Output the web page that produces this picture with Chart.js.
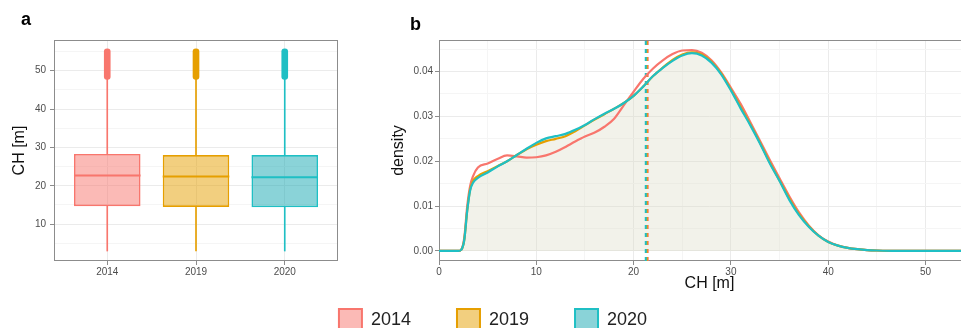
<!DOCTYPE html>
<html>
<head>
<meta charset="utf-8">
<script src="https://cdn.jsdelivr.net/npm/chart.js@4.4.1/dist/chart.umd.min.js"></script>
<style>
  html, body { margin: 0; padding: 0; background: #fff; overflow: hidden; width: 961px; height: 328px; position: relative; }
  canvas { position: absolute; }
  #boxChart { left: 0; top: 0; }
  #densChart { left: 380px; top: 0; }
  #legendChart { left: 0; top: 263px; }
</style>
</head>
<body>
<canvas id="boxChart" width="345" height="300"></canvas>
<canvas id="densChart" width="600" height="300"></canvas>
<canvas id="legendChart" width="986" height="260"></canvas>
<script>
const years = ['2014', '2019', '2020'];
const lineColors = ['#F8766D', '#E69F00', '#1FBFC4'];
const fillColors = ['rgba(248,118,109,0.5)', 'rgba(230,159,0,0.5)', 'rgba(21,167,177,0.5)'];

// boxplot stats, CH [m]
const whiskerLow = [3.0, 3.0, 3.0];
const q1 = [14.7, 14.5, 14.4];
const median = [22.7, 22.4, 22.2];
const q3 = [28.3, 28.0, 28.0];
const whiskerHigh = [48.3, 48.3, 48.3];
const outlierMin = [47.7, 47.7, 47.7];
const outlierMax = [55.7, 55.7, 55.7];

// density curves
const chX = [0, 1, 2, 2.3, 2.6, 2.9, 3.2, 3.5, 4, 5, 6, 7, 8, 9, 10, 11, 12, 13, 14, 15, 16, 17, 18, 19, 20,
  21, 22, 23, 24, 25, 26, 27, 28, 29, 30, 31, 32, 33, 34, 35, 36, 37, 38, 39, 40, 41, 42, 43, 44, 45, 47, 50, 55.6];
const dens2014 = [0, 0, 0, 0.0003, 0.003, 0.010, 0.0145, 0.0167, 0.0186, 0.0195, 0.0205, 0.0213, 0.0211, 0.0208, 0.0209,
  0.0213, 0.0221, 0.0232, 0.0244, 0.0255, 0.0264, 0.0277, 0.0295, 0.0325, 0.0355,
  0.0384, 0.0407, 0.0425, 0.0439, 0.0447, 0.0448, 0.0442, 0.0425, 0.0398, 0.0364, 0.0328, 0.0287, 0.0245, 0.0203,
  0.0162, 0.0122, 0.0086, 0.0057, 0.0035, 0.0021, 0.0012, 0.0007, 0.0004, 0.0002, 0.0001, 0, 0, 0];
const dens2019 = [0, 0, 0, 0.0003, 0.0025, 0.009, 0.0137, 0.0156, 0.0167, 0.0178, 0.0189, 0.0200, 0.0214, 0.0227, 0.0237,
  0.0245, 0.0250, 0.0256, 0.0267, 0.0280, 0.0293, 0.0305, 0.0317, 0.0330, 0.0346,
  0.0367, 0.0390, 0.0409, 0.0426, 0.0438, 0.0443, 0.0438, 0.0422, 0.0396, 0.0360, 0.0321, 0.0282, 0.0241, 0.0197,
  0.0157, 0.0117, 0.0082, 0.0055, 0.0034, 0.0020, 0.0012, 0.0007, 0.0004, 0.0002, 0.0001, 0, 0, 0];
const dens2020 = [0, 0, 0, 0.0003, 0.0025, 0.009, 0.0135, 0.0152, 0.0163, 0.0175, 0.0188, 0.0200, 0.0214, 0.0228, 0.0241,
  0.0251, 0.0256, 0.0261, 0.0270, 0.0281, 0.0294, 0.0306, 0.0317, 0.0330, 0.0346,
  0.0367, 0.0390, 0.0408, 0.0424, 0.0436, 0.0441, 0.0436, 0.0420, 0.0394, 0.0358, 0.0318, 0.0280, 0.0239, 0.0195,
  0.0156, 0.0114, 0.0080, 0.0054, 0.0034, 0.0020, 0.0012, 0.0007, 0.0004, 0.0002, 0.0001, 0, 0, 0];
const meanCH = [21.45, 21.35, 21.25];

const family = '"Liberation Sans", Arial, sans-serif';
Chart.defaults.font.family = family;

const densYMin = -0.00224, densYMax = 0.04704;

function isMajor(v, step) { return Math.abs(v / step - Math.round(v / step)) < 1e-6; }
// ticks on every multiple of step inside the axis range
function stepTicks(step) {
  return scale => {
    const out = [];
    for (let k = Math.ceil(scale.min / step - 1e-9); k * step <= scale.max + 1e-9; k++) {
      out.push({ value: +(k * step).toFixed(6) });
    }
    scale.ticks = out;
  };
}
function gridOpts(step) {
  return {
    color: c => (c.tick && isMajor(c.tick.value, step)) ? '#EBEBEB' : '#F5F5F5',
    tickColor: c => (c.tick && isMajor(c.tick.value, step)) ? '#8c8c8c' : 'rgba(0,0,0,0)',
    tickLength: 4,
    offset: false
  };
}
const tickFont = { size: 10 };
const titleFont = { size: 16 };

// panel letter (a / b)
const panelTag = {
  id: 'panelTag',
  afterDraw(chart, args, opts) {
    const ctx = chart.ctx;
    ctx.save();
    ctx.font = 'bold 18px ' + family;
    ctx.fillStyle = '#000';
    ctx.fillText(opts.text, opts.x, opts.y);
    ctx.restore();
  }
};

// grey frame round the panel
const panelBorder = {
  id: 'panelBorder',
  beforeDatasetsDraw(chart) {
    const { ctx, chartArea: a } = chart;
    ctx.save();
    ctx.strokeStyle = '#8c8c8c';
    ctx.lineWidth = 1;
    ctx.strokeRect(Math.round(a.left) + 0.5, Math.round(a.top) + 0.5,
      Math.round(a.right - a.left) - 1, Math.round(a.bottom - a.top) - 1);
    ctx.restore();
  }
};

// median line inside each box
const medianLines = {
  id: 'medianLines',
  afterDatasetsDraw(chart) {
    const meta = chart.getDatasetMeta(2);
    const ys = chart.scales.y;
    const ctx = chart.ctx;
    ctx.save();
    ctx.lineWidth = 2;
    meta.data.forEach((bar, i) => {
      const py = ys.getPixelForValue(median[i]);
      ctx.strokeStyle = lineColors[i];
      ctx.beginPath();
      ctx.moveTo(bar.x - bar.width / 2, py);
      ctx.lineTo(bar.x + bar.width / 2, py);
      ctx.stroke();
    });
    ctx.restore();
  }
};

// --- a: boxplots
const pos = years.map((_, i) => i + 1);
const seg = (lo, hi) => pos.map((x, i) => ({ x: x, y: [lo[i], hi[i]] }));

new Chart(document.getElementById('boxChart'), {
  type: 'bar',
  data: {
    datasets: [
      { data: seg(whiskerLow, q1), backgroundColor: lineColors, barThickness: 1, grouped: false },
      { data: seg(q3, whiskerHigh), backgroundColor: lineColors, barThickness: 1, grouped: false },
      { data: seg(q1, q3), backgroundColor: fillColors, borderColor: lineColors, borderWidth: 1.6,
        borderSkipped: false, barPercentage: 0.75, categoryPercentage: 1, grouped: false },
      { data: seg(outlierMin, outlierMax), backgroundColor: lineColors, barThickness: 6,
        borderRadius: 3, borderSkipped: false, grouped: false }
    ]
  },
  options: {
    responsive: false,
    animation: false,
    events: [],
    layout: { padding: { left: 6, top: 40, right: 7, bottom: 0 } },
    scales: {
      x: {
        type: 'linear', min: 0.4, max: 3.6, offset: false,
        afterBuildTicks: s => { s.ticks = pos.map(v => ({ value: v })); },
        afterFit: s => { s.height = 39; },
        grid: { color: '#EBEBEB', tickColor: '#8c8c8c', tickLength: 4, offset: false },
        border: { display: false },
        ticks: { color: '#4D4D4D', font: tickFont, padding: 1, autoSkip: false, maxRotation: 0,
          callback: v => years[v - 1] }
      },
      y: {
        min: 0.4, max: 58, beginAtZero: false,
        ticks: { color: '#4D4D4D', font: tickFont, padding: 4, autoSkip: false,
          callback: v => isMajor(v, 10) ? v : '' },
        afterBuildTicks: stepTicks(5),
        afterFit: s => { s.width = 48; },
        grid: gridOpts(10),
        border: { display: false },
        title: { display: true, text: 'CH [m]', color: '#111', font: titleFont, padding: { top: 4, bottom: 4 } }
      }
    },
    plugins: {
      legend: { display: false },
      tooltip: { enabled: false },
      panelTag: { text: 'a', x: 21, y: 25 }
    }
  },
  plugins: [panelBorder, medianLines, panelTag]
});

// --- b: density
const curves = [dens2014, dens2019, dens2020];
const curveSets = curves.map((d, i) => ({
  label: years[i],
  data: chX.map((x, j) => ({ x: x, y: d[j] })),
  borderColor: lineColors[i],
  borderWidth: 2.2,
  pointRadius: 0,
  cubicInterpolationMode: 'monotone',
  fill: i === 2 ? 'origin' : false,
  backgroundColor: 'rgba(222,222,200,0.38)',
  order: 3 - i
}));
const meanSets = meanCH.map((m, i) => ({
  data: [{ x: m, y: densYMin }, { x: m, y: densYMax }],
  borderColor: lineColors[i],
  borderWidth: 2,
  borderDash: [4, 4],
  pointRadius: 0,
  fill: false,
  order: 6 - i
}));

new Chart(document.getElementById('densChart'), {
  type: 'line',
  data: { datasets: curveSets.concat(meanSets) },
  options: {
    responsive: false,
    animation: false,
    events: [],
    layout: { padding: { left: 5, top: 40, right: 0, bottom: 0 } },
    scales: {
      x: {
        type: 'linear', min: 0, max: 55.6,
        ticks: { color: '#4D4D4D', font: tickFont, padding: 1, autoSkip: false, maxRotation: 0,
          callback: v => isMajor(v, 10) ? v : '' },
        afterBuildTicks: stepTicks(5),
        afterFit: s => { s.height = 39; },
        grid: gridOpts(10),
        border: { display: false },
        title: { display: true, text: 'CH [m]', color: '#111', font: titleFont, padding: { top: 0, bottom: 7 } }
      },
      y: {
        min: densYMin, max: densYMax,
        ticks: { color: '#4D4D4D', font: tickFont, padding: 2, autoSkip: false,
          callback: v => isMajor(v, 0.01) ? v.toFixed(2) : '' },
        afterBuildTicks: stepTicks(0.005),
        afterFit: s => { s.width = 54; },
        grid: gridOpts(0.01),
        border: { display: false },
        title: { display: true, text: 'density', color: '#111', font: titleFont, padding: { top: 4, bottom: 4 } }
      }
    },
    plugins: {
      legend: { display: false },
      tooltip: { enabled: false },
      filler: { drawTime: 'beforeDatasetsDraw' },
      panelTag: { text: 'b', x: 30, y: 30 }
    }
  },
  plugins: [panelBorder, panelTag]
});

// --- shared legend
new Chart(document.getElementById('legendChart'), {
  type: 'bar',
  data: {
    labels: [],
    datasets: years.map((y, i) => ({
      label: y, data: [], backgroundColor: fillColors[i], borderColor: lineColors[i], borderWidth: 2
    }))
  },
  options: {
    responsive: false,
    animation: false,
    events: [],
    layout: { padding: 0 },
    scales: { x: { display: false }, y: { display: false } },
    plugins: {
      tooltip: { enabled: false },
      legend: {
        position: 'top',
        maxHeight: 200,
        labels: { boxWidth: 23, boxHeight: 23, padding: 46, color: '#222', font: { size: 18 } }
      }
    }
  }
});
</script>
</body>
</html>
